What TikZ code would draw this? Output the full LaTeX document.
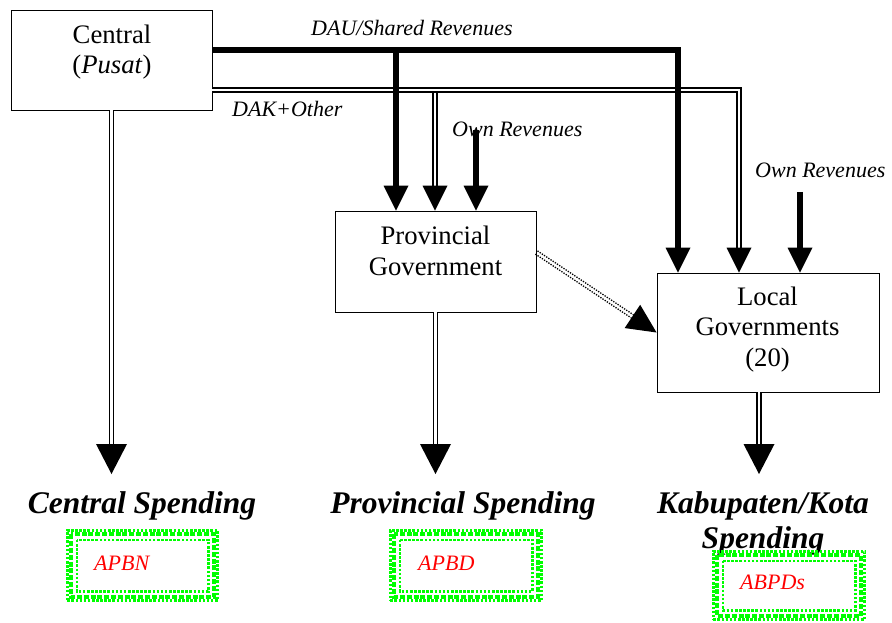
\documentclass[tikz,border=0pt]{standalone}
\usepackage{fontspec}
\setmainfont{Liberation Serif}
\usetikzlibrary{arrows.meta,calc}
\definecolor{glime}{RGB}{0,255,0}
\definecolor{tred}{RGB}{255,0,0}
\newcommand{\smalltip}[1]{\fill (#1) -- ++(-12.5,-25) -- ++(25,0) -- cycle;}
\newcommand{\bigtip}[1]{\fill (#1) -- ++(-15.5,-30) -- ++(31,0) -- cycle;}
\begin{document}
\begin{tikzpicture}[x=1pt,y=-1pt,
  box/.style={draw, line width=0.9pt, rectangle, inner sep=0pt},
  boxtext/.style={align=center, font=\fontsize{26.7}{30.5}\selectfont, inner sep=0pt},
  lbl/.style={font=\fontsize{22}{26}\selectfont\itshape, inner sep=0pt, anchor=base west},
  spend/.style={font=\fontsize{31.5}{35}\selectfont\bfseries\itshape, inner sep=0pt, align=center},
  thickarr/.style={line width=5.5pt, -{Triangle[width=25pt,length=25pt,line width=0pt]}},
  dbl/.style={double, double distance=2.4pt, line width=1.7pt},
  gbox/.style={draw=glime, line width=2.6pt, dash pattern=on 2.6pt off 1.5pt, inner sep=0pt},
  gmid/.style={draw=glime, line width=3.8pt, dash pattern=on 5pt off 1.8pt},
  ginner/.style={draw=glime, line width=2.6pt, dash pattern=on 2.6pt off 1.5pt},
  gtext/.style={font=\fontsize{22}{26}\selectfont\itshape, text=tred, inner sep=0pt, anchor=base west},
  dotline/.style={line width=1.3pt, dash pattern=on 1.3pt off 1.3pt}
]
\useasboundingbox (0,0) rectangle (892,623);

% boxes
\node[box, minimum width=201pt, minimum height=100pt] (central) at (111.5,60) {};
\node[boxtext] (centralT) at (112,52) {Central\\(\textit{Pusat})};
\node[box, minimum width=201pt, minimum height=101pt] (prov) at (435.5,261.5) {};
\node[boxtext] (provT) at (435.5,251) {Provincial\\Government};
\node[box, minimum width=222pt, minimum height=119pt] (local) at (768,332.5) {};
\node[boxtext] (localT) at (767.5,329.3) {Local\\Governments\\(20)};

% labels
\node[lbl] (dau) at (311,36) {DAU/Shared Revenues};
\node[lbl] (dak) at (232,117) {DAK+Other};
\node[lbl] (ownPT) at (452,137) {Own Revenues};
\node[lbl] (ownLT) at (755,178) {Own Revenues};

% spending
\node[spend, anchor=base] (cs) at (142,513) {Central Spending};
\node[spend, anchor=base] (ps) at (463,513) {Provincial Spending};
\node[spend] (ks) at (763,523) {Kabupaten/Kota\\Spending};

% green boxes
\node[gbox, minimum width=150.4pt, minimum height=70.4pt] (apbn) at (142.5,565.5) {};
\node[gbox, minimum width=151.4pt, minimum height=70.4pt] (apbd) at (466,565.5) {};
\node[gbox, minimum width=151.4pt, minimum height=68.4pt] (abpd) at (789,585.5) {};
\foreach \b in {apbn,apbd,abpd}{
  \draw[gmid] ([shift={(5.3,5.3)}]\b.north west) rectangle ([shift={(-5.3,-5.3)}]\b.south east);
  \draw[ginner] ([shift={(10.8,10.8)}]\b.north west) rectangle ([shift={(-10.8,-10.8)}]\b.south east);
}
\node[gtext] (apbnT) at (94,570) {APBN};
\node[gtext] (apbdT) at (418,570) {APBD};
\node[gtext] (abpdT) at (740,589) {ABPDs};

% coordinates
\coordinate (tLdau) at (678,0 |- local.north);
\coordinate (tLdak) at (739,0 |- local.north);
\coordinate (tLown) at (800,0 |- local.north);
\coordinate (tPdau) at (396,0 |- prov.north);
\coordinate (tPdak) at (435,0 |- prov.north);
\coordinate (tPown) at (476,0 |- prov.north);
\coordinate (ownP) at (476,130);
\coordinate (ownL) at (800,192);
\coordinate (tC) at (central.south |- 0,474);
\coordinate (tP) at (prov.south |- 0,474);
\coordinate (fromL) at (759,0 |- local.south);
\coordinate (tL) at (759,474);

% double connectors
\draw[dbl, shorten >=24pt] (central.east |- 0,90) -- (739,90) -- (tLdak);
\draw[dbl, shorten >=24pt] (435,93) -- (tPdak);
\draw[dbl, shorten >=29pt] (central.south) -- (tC);
\draw[dbl, shorten >=29pt] (prov.south) -- (tP);
\draw[dbl, shorten >=29pt] (fromL) -- (tL);
\smalltip{tLdak}
\smalltip{tPdak}
\bigtip{tC}
\bigtip{tP}
\bigtip{tL}

% thick connectors
\draw[thickarr] (central.east |- 0,50) -- (678,50) -- (tLdau);
\draw[thickarr] (396,47.5) -- (tPdau);
\draw[thickarr, line width=6pt] (ownP) -- (tPown);
\draw[thickarr, line width=6pt] (ownL) -- (tLown);

% dotted arrow
\coordinate (dS) at ([yshift=9pt]prov.east);
\coordinate (dT) at (local.west);
\coordinate (dM) at ($(dT)!29pt!(dS)$);
\draw[dotline] ($(dS)!1.9pt!90:(dT)$) -- ($(dM)!1.9pt!-90:(dS)$);
\draw[dotline] ($(dS)!1.9pt!-90:(dT)$) -- ($(dM)!1.9pt!90:(dS)$);
\fill (dT) -- ($(dM)!14pt!90:(dT)$) -- ($(dM)!14pt!-90:(dT)$) -- cycle;
\end{tikzpicture}
\end{document}
